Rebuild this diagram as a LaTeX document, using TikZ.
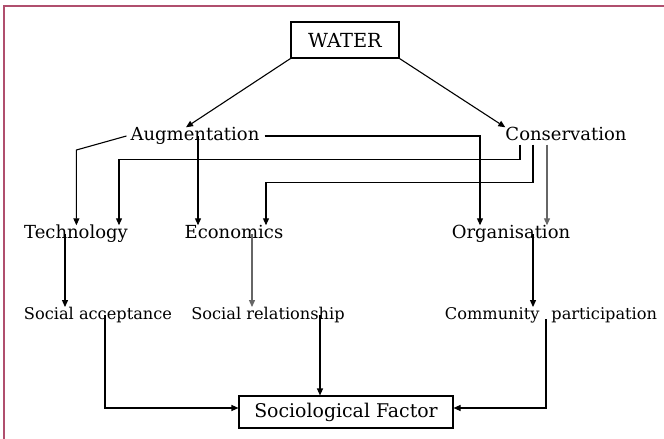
\documentclass[tikz,border=0pt]{standalone}
\usepackage{fontspec}
\setmainfont{DejaVu Serif}
\usetikzlibrary{arrows.meta, positioning, calc}
\definecolor{framerose}{rgb}{0.69, 0.31, 0.43}
\tikzset{
    lbl/.style={inner sep=0pt, text height=13pt, text depth=4pt, font=\fontsize{18}{21}\selectfont},
    sublbl/.style={inner sep=0pt, text height=12pt, text depth=3.5pt, font=\fontsize{16.2}{19}\selectfont},
    box/.style={draw, line width=1.1pt, inner sep=0pt},
    arr/.style={-{Triangle[length=7pt, width=6pt]}, line width=1.1pt},
}

\begin{document}
\begin{tikzpicture}[x=1pt, y=-1pt]
    \useasboundingbox (0,0) rectangle (664,439);
    \draw[framerose, line width=1.8pt] (4,439) -- (4,6) -- (664,6);

    \node[box, minimum width=108, minimum height=36, font=\fontsize{19.4}{22}\selectfont] (water) at (345, 40) {WATER};
    \node[lbl] (aug) at (195, 136) {Augmentation};
    \node[lbl] (cons) at (566, 136) {Conservation};

    \node[lbl] (tech) at (76, 234) {Technology};
    \node[lbl] (econ) at (234, 234) {Economics};
    \node[lbl] (org) at (511, 234) {Organisation};

    \node[sublbl] (sacc) at (98, 315) {Social acceptance};
    \node[sublbl] (srel) at (268, 315) {Social relationship};
    \node[sublbl] (comm) at (551, 315) {Community\hspace{12pt}participation};

    \node[box, minimum width=214, minimum height=32, font=\fontsize{18.9}{22}\selectfont] (soc) at (346, 412) {Sociological Factor};

    \draw[arr] (water.south west) -- ([xshift=-9]aug.north);
    \draw[arr] (water.south east) -- (cons.north west);

    \draw[arr] ([xshift=-4]aug.west) -- ++(-50, 14) coordinate (tbend) -- (tbend |- tech.north);
    \draw[arr] ([xshift=-46]cons.south) -- ++(0, 15) -| ([xshift=43]tech.north);
    \draw[arr] ([xshift=3]aug.center) -- ([xshift=-36]econ.north);
    \draw[arr] ([xshift=-33]cons.south) -- ++(0, 38) -| ([xshift=32]econ.north);
    \draw[arr] ([xshift=5]aug.east) -| ([xshift=-31]org.north);
    \draw[arr, black!60] ([xshift=-19]cons.south) -- ([xshift=36]org.north);

    \draw[arr] ([xshift=-11]tech.center) -- ([xshift=-33]sacc.north);
    \draw[arr, black!60] ([xshift=18]econ.center) -- ([xshift=-16]srel.north);
    \draw[arr] ([xshift=22]org.center) -- ([xshift=-18]comm.north);

    \draw[arr] ([xshift=7]sacc.center) |- ([yshift=4]soc.west);
    \draw[arr] ([xshift=52]srel.center) -- ([xshift=-26]soc.north);
    \draw[arr] ([xshift=-5, yshift=-4]comm.center) |- ([yshift=4]soc.east);
\end{tikzpicture}
\end{document}
